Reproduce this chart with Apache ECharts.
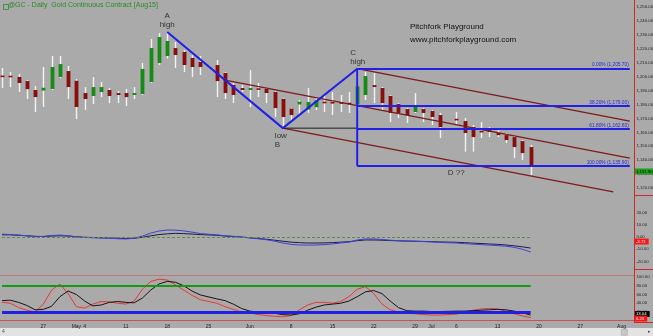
<!DOCTYPE html>
<html><head><meta charset="utf-8">
<script src="https://cdn.jsdelivr.net/npm/echarts@6/dist/echarts.min.js"></script>
<style>html,body{margin:0;padding:0;background:#aaaaaa;overflow:hidden}#c{width:653px;height:336px}</style>
</head><body><div id="c"></div>
<script>
// ---- categories (trading-day slots) ----
const dates = [
'2015-04-20','2015-04-21','2015-04-22','2015-04-23','2015-04-24','2015-04-27','2015-04-28','2015-04-29','2015-04-30',
'2015-05-01','2015-05-04','2015-05-05','2015-05-06','2015-05-07','2015-05-08','2015-05-11','2015-05-12','2015-05-13','2015-05-14','2015-05-15',
'2015-05-18','2015-05-19','2015-05-20','2015-05-21','2015-05-22','2015-05-25','2015-05-26','2015-05-27','2015-05-28','2015-05-29',
'2015-06-01','2015-06-02','2015-06-03','2015-06-04','2015-06-05','2015-06-08','2015-06-09','2015-06-10','2015-06-11','2015-06-12',
'2015-06-15','2015-06-16','2015-06-17','2015-06-18','2015-06-19','2015-06-22','2015-06-23','2015-06-24','2015-06-25','2015-06-26',
'2015-06-29','2015-06-30','2015-07-01','2015-07-02','2015-07-03','2015-07-06','2015-07-07','2015-07-08','2015-07-09','2015-07-10',
'2015-07-13','2015-07-14','2015-07-15','2015-07-16','2015-07-17','2015-07-20','2015-07-21','2015-07-22','2015-07-23','2015-07-24',
'2015-07-27','2015-07-28','2015-07-29','2015-07-30','2015-07-31','2015-08-03','2015-08-04'];
const tickIdx  = [5,9,10,15,20,25,30,35,40,45,50,52,55,60,65,70,75];
const tickText = ['27','May','4','11','18','25','Jun','8','15','22','29','Jul','6','13','20','27','Aug'];

// ---- price series (OHLC) ----
const opens = [1200.6,1200.5,1199.7,1196.8,1190.4, 1190.0,1191.1,1199.7,1204.0,1197.0, 1188.2,1186.1,1188.9,1190.4,1188.2,
 1188.2,1186.8,1187.5,1196.1,1209.8, 1214.8,1220.5,1217.7,1213.4,1210.5, null,1208.3,1202.6,1194.0,1191.8,
 1190.4,1191.1,1191.1,1189.0,1184.0, 1177.0,1180.0,1176.3,1178.0,1181.8, 1181.4,1181.5,1181.0,1180.0,1186.8,
 1193.9,1191.8,1186.1,1180.3,1176.7, 1174.6,1176.7,1175.3,1172.4,null, 1169.5,1168.1,1163.8,1161.0,1161.6,
 1159.5,1158.0,1156.6,1153.7,1149.4];
const highs = [1206.2,1203.3,1201.9,1197.6,1193.2, 1206.9,1214.8,1214.8,1207.6,1198.3, 1192.5,1199.7,1196.1,1191.8,1189.7,
 1191.1,1192.5,1209.8,1227.0,1231.3, 1232.0,1224.9,1219.1,1215.5,1214.8, null,1211.9,1203.3,1195.4,1194.0,
 1204.7,1195.4,1191.8,1189.7,1184.6, 1177.4,1183.2,1191.8,1185.3,1186.8, 1188.9,1186.8,1188.9,1205.7,1203.3,
 1202.6,1192.5,1186.8,1181.0,1177.4, 1188.2,1177.4,1176.0,1173.9,null, 1174.6,1170.3,1165.2,1167.4,1163.8,
 1161.6,1159.5,1157.3,1154.5,1150.9];
const lows = [1191.8,1192.5,1189.0,1183.9,1174.6, 1178.2,1190.4,1199.0,1183.9,1169.5, 1176.0,1180.3,1185.3,1181.0,1181.0,
 1178.9,1183.9,1186.8,1195.4,1208.3, 1213.0,1206.2,1203.3,1199.7,1201.1, null,1185.3,1183.9,1181.0,1189.0,
 1178.2,1185.3,1181.0,1171.0,1163.1, 1168.1,1172.4,1173.9,1176.0,1174.6, 1172.4,1174.6,1173.9,1176.0,1183.2,
 1181.0,1176.0,1167.4,1170.3,1166.7, 1173.9,1167.4,1165.2,1155.9,null, 1165.2,1146.1,1146.1,1155.9,1156.6,
 1156.6,1152.3,1141.5,1140.1,1129.3];
const closes = [1199.8,1199.6,1195.4,1191.0,1185.3, 1192.0,1206.9,1209.0,1192.5,1178.2, 1183.9,1192.5,1192.5,1186.1,1186.8,
 1185.3,1188.2,1205.5,1220.5,1228.4, 1225.6,1215.5,1208.3,1206.9,1206.9, null,1196.8,1188.2,1186.8,1190.4,
 1191.8,1191.0,1188.2,1177.4,1171.0, 1172.4,1182.0,1181.8,1183.0,1181.0, 1181.0,1180.5,1180.3,1193.0,1200.4,
 1192.5,1181.0,1173.9,1173.9,1172.4, 1179.6,1173.9,1171.0,1163.8,null, 1168.8,1159.5,1156.6,1160.0,1160.2,
 1158.0,1154.5,1149.4,1145.1,1136.5];
const lastPrice = 1131.9, lastPriceText = '1,131.90';

// ---- ABC swing points and pitchfork ----
const abcIdx = [20, 34, 43];
const abcVal = [1232.0, 1163.0, 1205.7];
const forkMedian = [[27, 1197.5], [76, 1141.5]];
const forkUpper  = [[43, 1205.7], [76, 1168.0]];
const forkLower  = [[34, 1163.0], [74, 1117.3]];
const fibStart = 43, fibEnd = 76;
const fibLevels = [1205.7, 1179.0, 1162.6, 1135.9];
const fibText = ['0.00% (1,205.70)', '38.20% (1,179.00)', '61.80% (1,162.60)', '100.00% (1,135.90)'];
const dIdx = 55;

// ---- oscillator panel (middle) ----
const oscBlue = [2.4,2.0,1.6,1.0,0.3, 0.5,1.2,1.6,1.0,0.2, -0.4,-0.6,-0.8,-1.0,-1.4, -1.6,-1.0,0.8,3.2,4.9,
 5.7,5.6,5.0,4.0,2.8, null,1.8,1.0,0.6,0.0, -0.8,-1.4,-2.2,-3.4,-4.9, -6.0,-6.5,-6.6,-6.5,-6.2,
 -5.6,-4.9,-4.2,-2.4,-1.6, -1.6,-2.0,-2.6,-3.0,-3.3, -3.5,-3.7,-4.0,-4.4,null, -4.9,-5.4,-5.8,-6.2,-6.6,
 -7.0,-7.5,-8.4,-10.0,-12.2];
const oscBlack = [1.8,1.8,1.4,1.0,0.6, 0.4,0.8,1.0,0.8,0.2, -0.2,-0.4,-0.6,-0.8,-1.0, -1.2,-1.0,-0.2,1.0,2.0,
 2.6,3.0,2.8,2.4,2.0, null,1.4,0.8,0.4,0.0, -0.6,-1.2,-1.8,-2.6,-3.4, -4.2,-4.6,-4.9,-4.9,-4.8,
 -4.6,-4.2,-3.8,-3.0,-2.4, -2.4,-2.6,-2.9,-3.1,-3.3, -3.4,-3.6,-3.8,-4.0,null, -4.3,-4.6,-5.0,-5.3,-5.7,
 -6.0,-6.5,-7.2,-8.0,-9.0];
const oscTag = -3.7, oscTagText = '-3.71';

// ---- stochastic panel (bottom) ----
const stoD = [46,47,42,35,25, 26,33,55,68,60, 45,34,36,42,44, 42,41,52,70,84,
 90,88,80,68,59, null,50,46,38,28, 22,20,18,17,14, 13,16,24,31,36,
 38,40,45,55,66, 69,62,45,30,23, 22,22,21,21,null, 22,22,23,24,25, 26,25,22,18,13];
const stoK = [42,40,30,24,20, 38,70,84,62,32, 29,38,44,43,40, 38,45,72,90,95,
 93,82,70,58,48, null,40,32,26,20, 18,14,12,10,9, 12,25,36,42,42,
 40,44,55,72,78, 62,38,25,20,17, 16,14,13,13,null, 15,20,24,27,28, 27,22,16,11,7];
const stoK2 = [44,43,35,26,21, 30,58,80,70,42, 30,34,42,44,42, 40,42,62,85,96,
 94,86,74,62,52, null,44,36,29,22, 19,16,14,12,10, 11,20,32,40,42,
 41,43,50,66,78, 70,48,30,22,18, 17,15,14,13,null, 14,18,22,25,27, 27,24,18,13,9];
const stoLevels = [80, 20];
const stoTagD = 15.4, stoTagDText = '13.04';
const stoTagK = 5.0, stoTagKText = '6.23';

// ---- tick values ----
const yTicksMain = [1120,1130,1140,1150,1160,1170,1180,1190,1200,1210,1220,1230,1240,1250];
const yTicksOsc = [20,10,0,-10,-20];
const yTicksSto = [20,40,60,80,100];

const FONT = 'Liberation Sans, Arial, sans-serif';
const AXRED = '#d02828';
const fmt2 = v => Number(v).toLocaleString('en-US',{minimumFractionDigits:2, maximumFractionDigits:2});

const candleData = [];
for (let i = 0; i < opens.length; i++) {
  if (opens[i] == null) continue;
  candleData.push([i, opens[i], highs[i], lows[i], closes[i]]);
}

function renderCandle(params, api) {
  const i = api.value(0), o = api.value(1), h = api.value(2), l = api.value(3), c = api.value(4);
  const ph = api.coord([i, h]), pl = api.coord([i, l]), po = api.coord([i, o]), pc = api.coord([i, c]);
  const x = Math.round(ph[0]) + 0.5;
  const bw = 3.8;
  let top = Math.min(po[1], pc[1]);
  let hh = Math.abs(po[1] - pc[1]);
  if (hh < 1.6) { top -= (1.6 - hh) / 2; hh = 1.6; }
  const up = c > o;
  return { type: 'group', children: [
    { type: 'line', shape: { x1: x, y1: ph[1], x2: x, y2: pl[1] }, style: { stroke: '#f2f2f2', lineWidth: 1.4 } },
    { type: 'rect', shape: { x: x - bw / 2, y: top, width: bw, height: hh }, style: { fill: up ? '#168c16' : '#880e0e' } }
  ]};
}

function tagLine(xi, yi, value, text, bg, fg) {
  return {
    type: 'line', xAxisIndex: xi, yAxisIndex: yi, data: [], silent: true, z: 10,
    markLine: { symbol: ['none','none'], silent: true, animation: false,
      lineStyle: { color: 'rgba(0,0,0,0)', width: 0 },
      data: [{ yAxis: value }],
      label: { show: true, position: 'end', distance: 1, formatter: text, backgroundColor: bg, color: fg,
        fontSize: 4.3, fontFamily: FONT, padding: [1, 3, 1, 1] } }
  };
}

const GRID_LEFT = -2.1, GRID_W = 636;
const xBase = {
  type: 'category', data: dates, boundaryGap: true,
  axisLine: { show: false }, axisTick: { show: false }, axisLabel: { show: false }, splitLine: { show: false }
};
const yBase = (gi, mn, mx, ticks) => ({
  type: 'value', gridIndex: gi, position: 'right', offset: 0, min: mn, max: mx,
  axisLine: { show: true, onZero: false, lineStyle: { color: AXRED, width: 1 } },
  axisTick: { show: false }, splitLine: { show: false },
  axisLabel: { show: true, customValues: ticks, formatter: fmt2, fontSize: 4.3, fontFamily: FONT, color: '#222', margin: 2.5 }
});

const series = [];
series.push({ type: 'custom', xAxisIndex: 0, yAxisIndex: 0, data: candleData, renderItem: renderCandle,
  encode: { x: 0, y: [1, 2, 3, 4] }, z: 2, clip: true });

const lineS = (data, color, width, z, xi = 0, yi = 0, extra = {}) => Object.assign({
  type: 'line', xAxisIndex: xi, yAxisIndex: yi, data, symbol: 'none', silent: true,
  lineStyle: { color, width }, z
}, extra);

// pitchfork
series.push(lineS(forkMedian, '#7d1a1a', 1.2, 3));
series.push(lineS(forkUpper, '#7d1a1a', 1.2, 3));
series.push(lineS(forkLower, '#7d1a1a', 1.2, 3));
// B level line to C
series.push(lineS([[abcIdx[1], abcVal[1]], [abcIdx[2], abcVal[1]]], '#1a1a1a', 1, 3));
// ABC
series.push(lineS(abcIdx.map((x, k) => [x, abcVal[k]]), '#2020e8', 2, 4));
// vertical from C to 100%
series.push(lineS([[fibStart, fibLevels[0]], [fibStart, fibLevels[3]]], '#2020e8', 2, 4));
// fib levels
series.push({
  type: 'line', xAxisIndex: 0, yAxisIndex: 0, data: [], silent: true, z: 4,
  markLine: { symbol: ['none','none'], silent: true, animation: false,
    lineStyle: { color: '#2020e8', width: 2, type: 'solid' },
    data: fibLevels.map((v, k) => [
      { coord: [fibStart, v], label: { show: true, position: 'insideEndTop', formatter: fibText[k], distance: 1,
          color: '#2828d8', fontSize: 4.8, fontFamily: FONT } },
      { coord: [fibEnd, v] }
    ]) }
});
// annotation labels
const annStyle = { show: true, color: '#111', fontSize: 8, fontFamily: FONT, lineHeight: 9 };
series.push({
  type: 'scatter', xAxisIndex: 0, yAxisIndex: 0, symbolSize: 1, itemStyle: { color: 'transparent' }, silent: true, z: 5,
  data: [
    { value: [abcIdx[0], abcVal[0]], label: Object.assign({}, annStyle, { formatter: 'A\nhigh', position: 'top', distance: 2, align: 'center' }) },
    { value: [abcIdx[1], abcVal[1]], label: Object.assign({}, annStyle, { formatter: 'low\nB', position: 'bottom', distance: 3, align: 'left', offset: [-8, 0] }) },
    { value: [abcIdx[2], abcVal[2]], label: Object.assign({}, annStyle, { formatter: 'C\nhigh', position: 'top', distance: 2, align: 'left', offset: [-7, 0] }) },
    { value: [dIdx, fibLevels[3]], label: Object.assign({}, annStyle, { formatter: 'D ??', position: 'bottom', distance: 2, align: 'center' }) }
  ]
});
series.push(tagLine(0, 0, lastPrice, lastPriceText, '#1fa01f', '#0a0a0a'));

// oscillator panel
series.push(lineS(oscBlack, '#1c1c44', 1, 3, 1, 1, { connectNulls: true,
  markLine: { symbol: ['none','none'], silent: true, animation: false, label: { show: false },
    lineStyle: { color: '#5d8a48', width: 1, type: [3, 2] },
    data: [[{ coord: [0, 0] }, { coord: [opens.length - 1, 0] }]] } }));
series.push(lineS(oscBlue, '#4040d8', 1, 4, 1, 1, { connectNulls: true }));
series.push(tagLine(1, 1, oscTag, oscTagText, '#ff1414', '#ffffff'));

// stochastic panel
series.push({
  type: 'line', xAxisIndex: 2, yAxisIndex: 2, data: [], silent: true, z: 2,
  markLine: { symbol: ['none','none'], silent: true, animation: false, label: { show: false },
    data: [
      [{ coord: [0, stoLevels[0]], lineStyle: { color: '#139a13', width: 2, type: 'solid' } }, { coord: [opens.length - 1, stoLevels[0]] }],
      [{ coord: [0, stoLevels[1]], lineStyle: { color: '#2020e0', width: 3, type: 'solid' } }, { coord: [opens.length - 1, stoLevels[1]] }],
      { yAxis: 104, lineStyle: { color: '#c86464', width: 0.7, type: 'solid' } },
      { yAxis: 0, lineStyle: { color: '#c86464', width: 0.7, type: 'solid' } }
    ] }
});
series.push(lineS(stoK2, '#e58a8a', 0.8, 3, 2, 2, { connectNulls: true }));
series.push(lineS(stoK, '#d42a2a', 0.8, 3, 2, 2, { connectNulls: true }));
series.push(lineS(stoD, '#151515', 1, 4, 2, 2, { connectNulls: true }));
series.push(tagLine(2, 2, stoTagD, stoTagDText, '#000000', '#ffffff'));
series.push(tagLine(2, 2, stoTagK, stoTagKText, '#ff1414', '#ffffff'));

const chart = echarts.init(document.getElementById('c'), null, { renderer: 'canvas' });
const gridBase = { containLabel: false, outerBoundsMode: 'none' };
const AXR = GRID_LEFT + GRID_W;
chart.setOption({
  animation: false,
  backgroundColor: '#aaaaaa',
  textStyle: { fontFamily: FONT },
  grid: [
    Object.assign({ left: GRID_LEFT, top: 0, width: GRID_W, height: 195 }, gridBase),
    Object.assign({ left: GRID_LEFT, top: 195, width: GRID_W, height: 74 }, gridBase),
    Object.assign({ left: GRID_LEFT, top: 269, width: GRID_W, height: 53 }, gridBase)
  ],
  xAxis: [
    Object.assign({}, xBase, { gridIndex: 0 }),
    Object.assign({}, xBase, { gridIndex: 1 }),
    Object.assign({}, xBase, { gridIndex: 2,
      axisLine: { show: true, lineStyle: { color: AXRED, width: 1 } },
      axisLabel: { show: true, interval: (idx) => tickIdx.includes(idx),
        formatter: (val, idx) => { const k = tickIdx.indexOf(idx); return k >= 0 ? tickText[k] : ''; },
        fontSize: 5, fontFamily: FONT, color: '#222', margin: 2 } })
  ],
  yAxis: [
    yBase(0, 1115, 1255, yTicksMain),
    yBase(1, -26.1, 34.3, yTicksOsc),
    yBase(2, -2.9, 118.3, yTicksSto)
  ],
  graphic: [
    { type: 'rect', left: 0, top: 328, shape: { width: 653, height: 8 }, style: { fill: '#e3e3e3' }, silent: true },
    { type: 'text', left: 2, top: 329, style: { text: '4', fontSize: 5, fill: '#555', fontFamily: FONT } },
    { type: 'rect', left: 621, top: 329, shape: { width: 6, height: 6 }, style: { fill: '#c8c8c8', stroke: '#999', lineWidth: 0.5 } },
    { type: 'text', left: 648, top: 329, style: { text: '▸', fontSize: 5, fill: '#555', fontFamily: FONT } },
    { type: 'line', shape: { x1: AXR, y1: 195.5, x2: 653, y2: 195.5 }, style: { stroke: AXRED, lineWidth: 1 } },
    { type: 'line', shape: { x1: AXR, y1: 269.5, x2: 653, y2: 269.5 }, style: { stroke: AXRED, lineWidth: 1 } },
    { type: 'line', shape: { x1: AXR, y1: 322.5, x2: 653, y2: 322.5 }, style: { stroke: AXRED, lineWidth: 1 } },
    { type: 'rect', left: 1, top: 2, shape: { width: 5, height: 5 }, style: { fill: 'none', stroke: '#2b8a2b', lineWidth: 0.8 } },
    { type: 'text', left: 8, top: 1.5, style: { text: '@GC - Daily  Gold Continuous Contract [Aug15]', fontSize: 7, fill: '#2b8a2b', fontFamily: FONT } },
    { type: 'text', left: 410, top: 23, style: { text: 'Pitchfork Playground', fontSize: 8, fill: '#111', fontFamily: FONT } },
    { type: 'text', left: 410, top: 36, style: { text: 'www.pitchforkplayground.com', fontSize: 8, fill: '#111', fontFamily: FONT } }
  ],
  series
});
</script>
</body></html>
